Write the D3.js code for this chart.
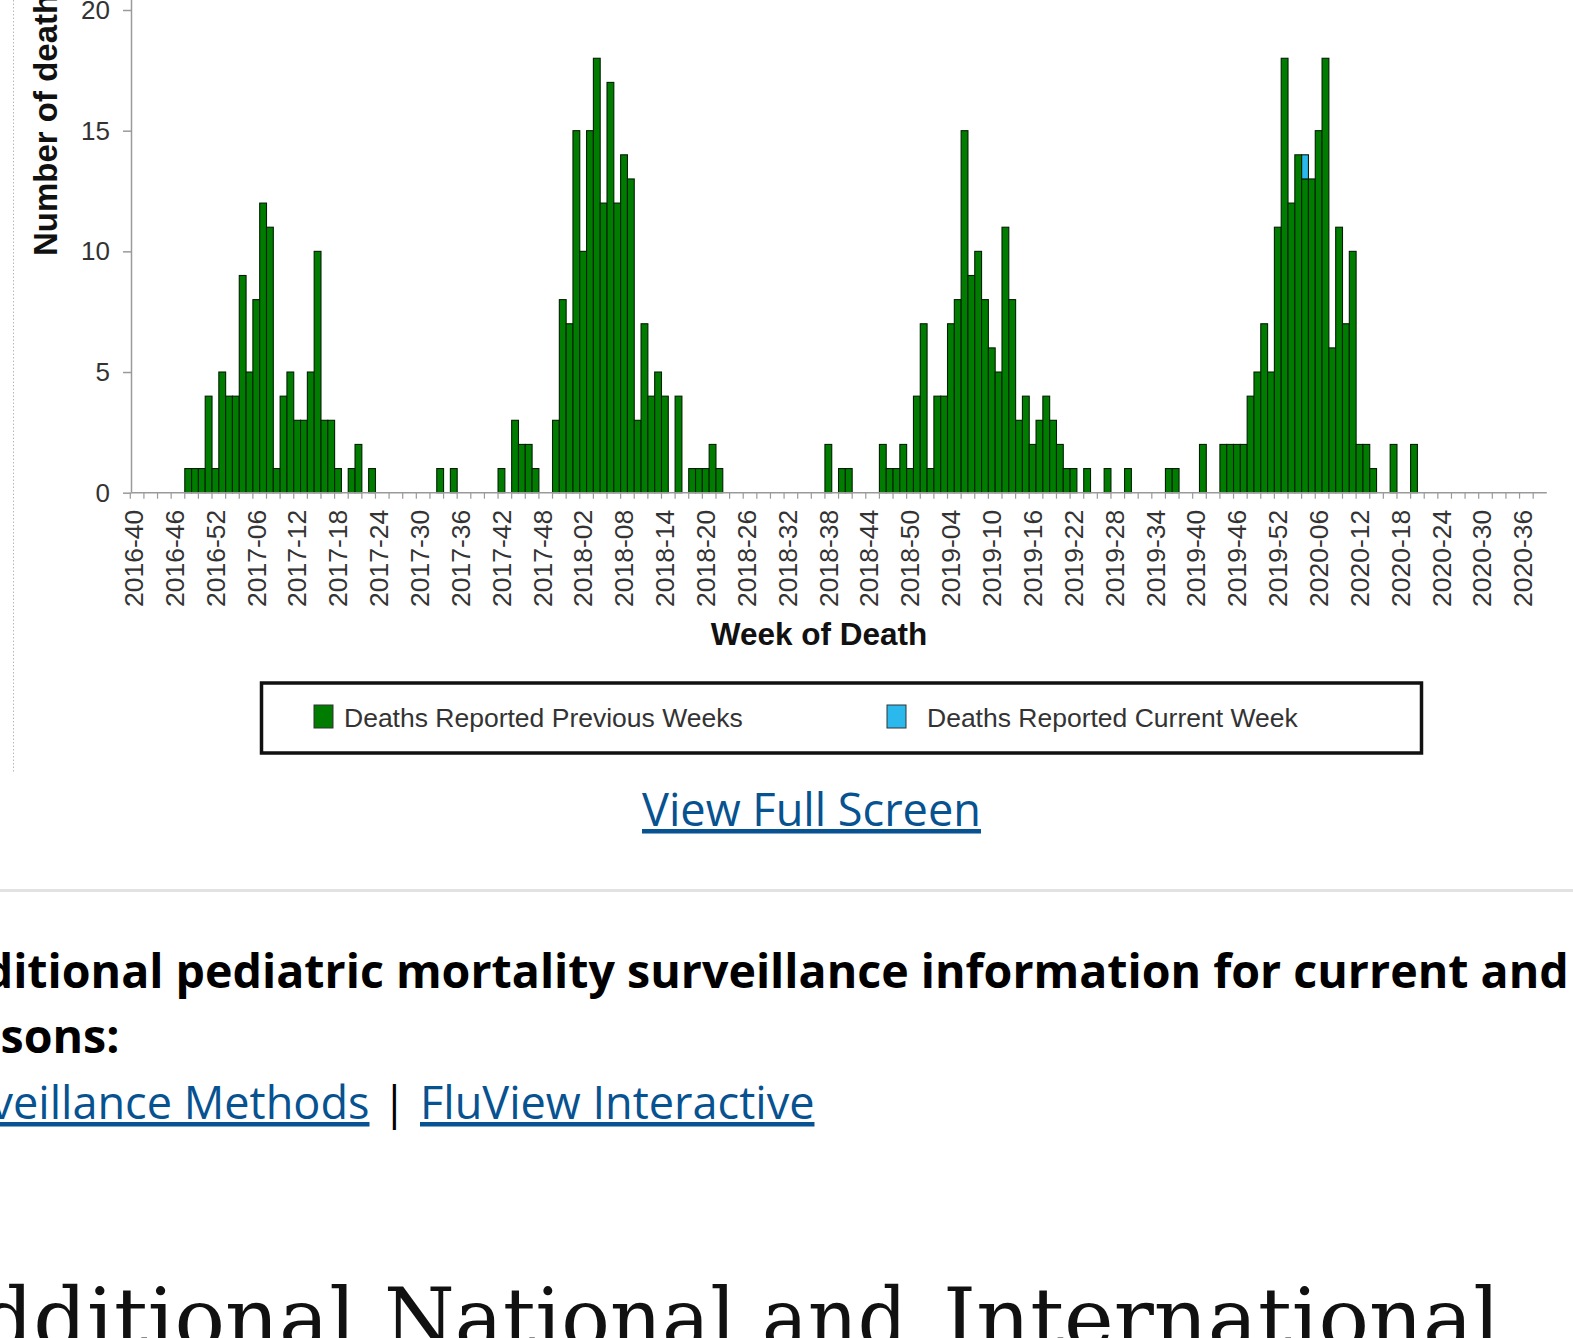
<!DOCTYPE html>
<html>
<head>
<meta charset="utf-8">
<script src="https://cdnjs.cloudflare.com/ajax/libs/d3/7.8.5/d3.min.js"></script>
<style>
  body { margin: 0; background: #fff; overflow: hidden; }
  .canvas svg { display: block; }
</style>
</head>
<body>
<div class="canvas"></div>
<script>
// deaths reported in previous weeks, one array per MMWR year (2016 starts at week 40)
const deaths2016 = [0, 0, 0, 0, 0, 0, 0, 0, 1, 1, 1, 4, 1];
const deaths2017 = [5, 4, 4, 9, 5, 8, 12, 11, 1, 4, 5, 3, 3, 5, 10, 3, 3, 1, 0, 1, 2, 0, 1, 0, 0, 0, 0, 0, 0,
  0, 0, 0, 1, 0, 1, 0, 0, 0, 0, 0, 0, 1, 0, 3, 2, 2, 1, 0, 0, 3, 8, 7];
const deaths2018 = [15, 10, 15, 18, 12, 17, 12, 14, 13, 3, 7, 4, 5, 4, 0, 4, 0, 1, 1, 1, 2, 1, 0, 0, 0, 0, 0,
  0, 0, 0, 0, 0, 0, 0, 0, 0, 0, 2, 0, 1, 1, 0, 0, 0, 0, 2, 1, 1, 2, 1, 4, 7];
const deaths2019 = [1, 4, 4, 7, 8, 15, 9, 10, 8, 6, 5, 11, 8, 3, 4, 2, 3, 4, 3, 2, 1, 1, 0, 1, 0, 0, 1, 0, 0,
  1, 0, 0, 0, 0, 0, 1, 1, 0, 0, 0, 2, 0, 0, 2, 2, 2, 2, 4, 5, 7, 5, 11];
const deaths2020 = [18, 12, 14, 13, 13, 15, 18, 6, 11, 7, 10, 2, 2, 1, 0, 0, 2, 0, 0, 2, 0, 0, 0, 0, 0, 0, 0,
  0, 0, 0, 0, 0, 0, 0, 0, 0, 0, 0, 0];

// deaths reported in the current week
const currentWeeks = ["2020-04"];
const currentDeaths = [1];

const yTicks = [0, 5, 10, 15, 20];
const legendLabels = ["Deaths Reported Previous Weeks", "Deaths Reported Current Week"];

// margins and dimensions
const w = 1573;
const h = 1338;
const plot = { left: 130.3, right: 1546.8, top: 10, bottom: 492.7 };
const axisX = 131.5;

const green = "#007d00";
const blue = "#2bb8ec";
const chartFont = "'Liberation Sans', Arial, sans-serif";
const pageFont = "'Open Sans', sans-serif";
const headFont = "'DejaVu Serif', serif";
const linkColor = "#075290";

// build the weekly table
const pad = (n) => String(n).padStart(2, "0");
const weeks = [];
[
  [2016, 40, deaths2016],
  [2017, 1, deaths2017],
  [2018, 1, deaths2018],
  [2019, 1, deaths2019],
  [2020, 1, deaths2020],
].forEach(([yr, start, vals]) =>
  vals.forEach((v, i) => weeks.push({ week: `${yr}-${pad(start + i)}`, prev: v, cur: 0 }))
);
currentWeeks.forEach((wk, i) => {
  const row = weeks.find((d) => d.week === wk);
  if (row) row.cur = currentDeaths[i];
});

// main svg
const svg = d3.select(".canvas").append("svg").attr("width", w).attr("height", h);

// scales
const x = d3.scaleBand().domain(weeks.map((d) => d.week)).range([plot.left, plot.right]).padding(0);
const y = d3.scaleLinear().domain([0, 20]).range([plot.bottom, plot.top]);

// image border on the left (dotted)
svg.append("line")
  .attr("x1", 13.5).attr("x2", 13.5).attr("y1", 0).attr("y2", 772)
  .attr("stroke", "#b8b8b8").attr("stroke-dasharray", "1.5,2");

// bars, previous weeks
svg.append("g")
  .selectAll("rect")
  .data(weeks.filter((d) => d.prev > 0))
  .enter()
  .append("rect")
  .attr("x", (d) => x(d.week))
  .attr("width", x.bandwidth())
  .attr("y", (d) => y(d.prev))
  .attr("height", (d) => y(0) - y(d.prev))
  .attr("fill", green)
  .attr("stroke", "#041f04")
  .attr("stroke-width", 1.1);

// bars, current week (stacked on top)
svg.append("g")
  .selectAll("rect")
  .data(weeks.filter((d) => d.cur > 0))
  .enter()
  .append("rect")
  .attr("x", (d) => x(d.week))
  .attr("width", x.bandwidth())
  .attr("y", (d) => y(d.prev + d.cur))
  .attr("height", (d) => y(d.prev) - y(d.prev + d.cur))
  .attr("fill", blue)
  .attr("stroke", "#041f04")
  .attr("stroke-width", 1.1);

// y axis
const yAxis = svg.append("g")
  .attr("transform", `translate(${axisX}, 0)`)
  .call(d3.axisLeft(y).tickValues(yTicks).tickSize(8.5).tickPadding(13).tickSizeOuter(0));
yAxis.select(".domain").remove();
yAxis.append("line").attr("y1", 0).attr("y2", plot.bottom).attr("stroke", "#9a9a9a").attr("stroke-width", 1.5);
yAxis.selectAll(".tick line").attr("stroke", "#9a9a9a").attr("stroke-width", 1.5);
yAxis.selectAll("text").attr("font-family", chartFont).attr("font-size", 26).attr("fill", "#333");

// x axis line + minor ticks every two weeks
const xAxis = svg.append("g");
xAxis.append("line")
  .attr("x1", axisX).attr("x2", plot.right).attr("y1", plot.bottom).attr("y2", plot.bottom)
  .attr("stroke", "#9a9a9a").attr("stroke-width", 1.5);
xAxis.selectAll("line.minor")
  .data(weeks.filter((d, i) => i % 2 === 0))
  .enter()
  .append("line")
  .attr("class", "minor")
  .attr("x1", (d) => x(d.week)).attr("x2", (d) => x(d.week))
  .attr("y1", plot.bottom).attr("y2", plot.bottom + 6)
  .attr("stroke", "#9a9a9a").attr("stroke-width", 1.2);

// x tick labels every six weeks, rotated
const xLabels = svg.append("g")
  .attr("transform", `translate(0, ${plot.bottom})`)
  .call(d3.axisBottom(x).tickValues(weeks.filter((d, i) => i % 6 === 0).map((d) => d.week)).tickSize(0));
xLabels.select(".domain").remove();
xLabels.selectAll("text")
  .attr("transform", "rotate(-90)")
  .attr("x", -17)
  .attr("y", 0)
  .attr("dy", "0.35em")
  .attr("text-anchor", "end")
  .attr("font-family", chartFont)
  .attr("font-size", 26.5)
  .attr("fill", "#333");

// axis titles
svg.append("text")
  .attr("x", 819).attr("y", 645)
  .attr("text-anchor", "middle")
  .attr("font-family", chartFont).attr("font-weight", 700).attr("font-size", 31.5)
  .attr("fill", "#111")
  .text("Week of Death");
svg.append("text")
  .attr("transform", "translate(57, 256) rotate(-90)")
  .attr("text-anchor", "start")
  .attr("font-family", chartFont).attr("font-weight", 700).attr("font-size", 33)
  .attr("fill", "#111")
  .text("Number of deaths");

// legend
const legend = svg.append("g");
legend.append("rect")
  .attr("x", 261.5).attr("y", 683).attr("width", 1160).attr("height", 70)
  .attr("fill", "#fff").attr("stroke", "#111").attr("stroke-width", 3.5);
const legendItems = [
  { label: legendLabels[0], color: green, sx: 314, tx: 344 },
  { label: legendLabels[1], color: blue, sx: 887, tx: 927 },
];
legendItems.forEach((d) => {
  legend.append("rect")
    .attr("x", d.sx).attr("y", 705).attr("width", 19).attr("height", 23)
    .attr("fill", d.color).attr("stroke", "#333").attr("stroke-width", 1);
  legend.append("text")
    .attr("x", d.tx).attr("y", 727)
    .attr("font-family", chartFont).attr("font-size", 26.5).attr("fill", "#333")
    .text(d.label);
});

// ---- page text around the chart ----
const probe = svg.append("text").attr("visibility", "hidden");
function textWidth(str, family, weight, size) {
  probe.attr("font-family", family).attr("font-weight", weight).attr("font-size", size).text(str);
  return probe.node().getComputedTextLength();
}
function fitSize(str, family, weight, width) {
  return (100 * width) / textWidth(str, family, weight, 100);
}

// link under the chart
const linkSize = fitSize("View Full Screen", pageFont, 400, 339);
svg.append("text")
  .attr("x", 811.5).attr("y", 826)
  .attr("text-anchor", "middle")
  .attr("font-family", pageFont).attr("font-size", linkSize)
  .attr("fill", linkColor).style("text-decoration", "underline")
  .text("View Full Screen");

// divider
svg.append("rect").attr("x", 0).attr("y", 889).attr("width", w).attr("height", 3).attr("fill", "#e2e2e2");

// bold paragraph (cut off at both sides)
const pSize = fitSize("pediatric mortality surveillance information", pageFont, 700, 1026);
const lead = textWidth("Additional pediatric", pageFont, 700, pSize) - textWidth("pediatric", pageFont, 700, pSize);
svg.append("text")
  .attr("x", 175.6 - lead).attr("y", 988)
  .attr("font-family", pageFont).attr("font-weight", 700).attr("font-size", pSize).attr("fill", "#000")
  .text("Additional pediatric mortality surveillance information for current and past");
const lead2 = textWidth("seasons:", pageFont, 700, pSize) - textWidth("sons:", pageFont, 700, pSize);
svg.append("text")
  .attr("x", 0.5 - lead2).attr("y", 1053)
  .attr("font-family", pageFont).attr("font-weight", 700).attr("font-size", pSize).attr("fill", "#000")
  .text("seasons:");

// links line
const lSize = fitSize("FluView Interactive", pageFont, 400, 394.6);
svg.append("text")
  .attr("x", 369.5).attr("y", 1119)
  .attr("text-anchor", "end")
  .attr("font-family", pageFont).attr("font-size", lSize)
  .attr("fill", linkColor).style("text-decoration", "underline")
  .text("Surveillance Methods");
svg.append("text")
  .attr("x", 394.5).attr("y", 1119)
  .attr("text-anchor", "middle")
  .attr("font-family", pageFont).attr("font-size", lSize).attr("fill", "#000")
  .text("|");
svg.append("text")
  .attr("x", 420).attr("y", 1119)
  .attr("font-family", pageFont).attr("font-size", lSize)
  .attr("fill", linkColor).style("text-decoration", "underline")
  .text("FluView Interactive");

// section heading, one word at a time so each lands where the page has it
const hSize = fitSize("International", headFont, 400, 557);
const headWords = [
  { text: "Additional", x: 356, anchor: "end", len: null },
  { text: "National", x: 384, anchor: "start", len: 352 },
  { text: "and", x: 762, anchor: "start", len: 145 },
  { text: "International", x: 943, anchor: "start", len: 557 },
];
const heads = svg.append("g")
  .selectAll("text")
  .data(headWords)
  .enter()
  .append("text")
  .attr("x", (d) => d.x).attr("y", 1287 + 0.729 * hSize)
  .attr("text-anchor", (d) => d.anchor)
  .attr("font-family", headFont).attr("font-size", hSize).attr("fill", "#111")
  .text((d) => d.text);
heads.filter((d) => d.len)
  .attr("textLength", (d) => d.len)
  .attr("lengthAdjust", "spacingAndGlyphs");

probe.remove();
</script>
</body>
</html>
